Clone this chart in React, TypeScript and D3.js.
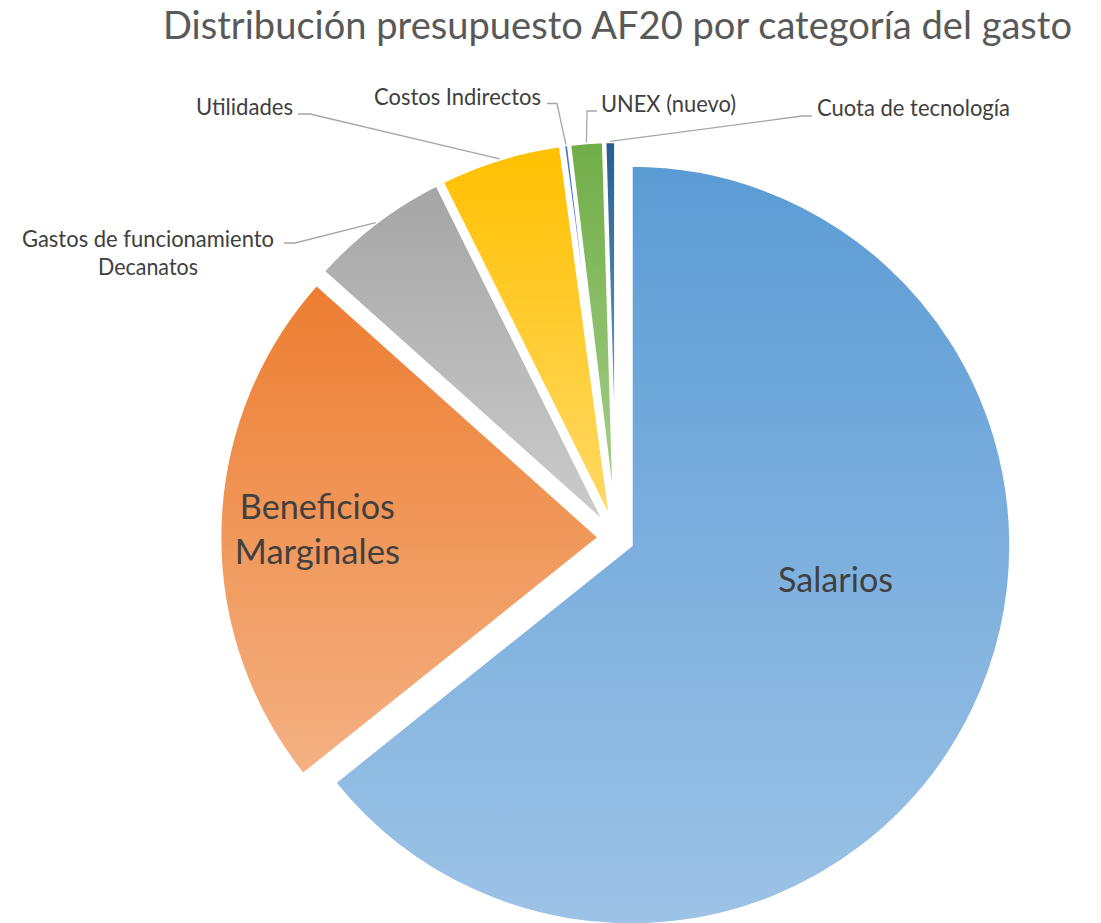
import React from "react";
import * as d3 from "d3";

// ---- data ----
const categories: string[] = [
  "Salarios",
  "Beneficios Marginales",
  "Gastos de funcionamiento Decanatos",
  "Utilidades",
  "Costos Indirectos",
  "UNEX (nuevo)",
  "Cuota de tecnología",
];
const values: number[] = [64.25, 22.36, 6.03, 5.22, 0.22, 1.44, 0.47];
const title = "Distribución presupuesto AF20 por categoría del gasto";

// ---- styles ----
const topColors = ["#5B9BD5", "#ED7D31", "#A5A5A5", "#FFC000", "#4472C4", "#70AD47", "#255E91"];
const bottomColors = ["#9DC3E6", "#F4B183", "#CCCCCC", "#FFD966", "#8FAADC", "#A9D18E", "#86B1DC"];
const FONT = "Lato, 'Open Sans', sans-serif";

// ---- layout ----
const W = 1101;
const H = 923;
const CX = 616.1;
const CY = 537.9;
const R = 380;
const EXPLODE = 16.5;

// word index at which a label is broken into two lines
const lineBreakAt: Record<number, number> = { 1: 1, 2: 3 };

type Outside = {
  x: number;
  y: number;
  anchor: "start" | "middle" | "end";
  widths: number[];
  elbow: [number, number];
  end: [number, number];
};
const outsideLabels: Record<number, Outside> = {
  2: { x: 148, y: 247, anchor: "middle", widths: [252, 100], elbow: [295, 243], end: [284, 243] },
  3: { x: 293, y: 115, anchor: "end", widths: [97], elbow: [310, 114], end: [298, 114] },
  4: { x: 541, y: 105, anchor: "end", widths: [167], elbow: [557, 103.5], end: [547, 103.5] },
  5: { x: 601, y: 112, anchor: "start", widths: [135], elbow: [587, 111], end: [597, 111] },
  6: { x: 817, y: 116, anchor: "start", widths: [193], elbow: [802, 116], end: [812, 116] },
};
type Inside = { angleDeg?: number; rf: number; widths: number[] };
const insideLabels: Record<number, Inside> = {
  0: { angleDeg: 99.6, rf: 0.546, widths: [115] },
  1: { rf: 0.743, widths: [155, 165] },
};

function splitLabel(i: number): string[] {
  const words = categories[i].split(" ");
  const k = lineBreakAt[i];
  if (k === undefined) return [categories[i]];
  return [words.slice(0, k).join(" "), words.slice(k).join(" ")];
}

export default function App() {
  const pieGen = d3.pie<number>().sort(null).value((d) => d);
  const arcs = pieGen(values);
  const arcGen = d3.arc<d3.PieArcDatum<number>>().innerRadius(0).outerRadius(R);

  const slices = arcs.map((a, i) => {
    const mid = (a.startAngle + a.endAngle) / 2;
    const ox = CX + EXPLODE * Math.sin(mid);
    const oy = CY - EXPLODE * Math.cos(mid);
    return { a, i, mid, ox, oy };
  });

  return (
    <svg
      width={W}
      height={H}
      style={{ position: "absolute", left: 0, top: 0, background: "#fff" }}
      fontFamily={FONT}
    >
      <defs>
        {categories.map((_, i) => (
          <linearGradient key={i} id={`g${i}`} x1="0" y1="0" x2="0" y2="1">
            <stop offset="0" stopColor={topColors[i]} />
            <stop offset="1" stopColor={bottomColors[i]} />
          </linearGradient>
        ))}
      </defs>
      <rect width={W} height={H} fill="#fff" />
      <text x={163} y={39} fontSize={38} fill="#595959" textLength={909} lengthAdjust="spacingAndGlyphs">
        {title}
      </text>

      {slices.map(({ a, i, ox, oy }) => (
        <path
          key={i}
          d={arcGen(a) || ""}
          transform={`translate(${ox},${oy})`}
          fill={`url(#g${i})`}
          stroke="#fff"
          strokeWidth={3.5}
          strokeLinejoin="miter"
        />
      ))}

      {slices.map(({ i, mid, ox, oy }) => {
        const L = outsideLabels[i];
        if (!L) return null;
        const sx = ox + R * Math.sin(mid);
        const sy = oy - R * Math.cos(mid);
        const lines = splitLabel(i);
        return (
          <g key={`o${i}`}>
            <polyline
              points={`${sx},${sy} ${L.elbow[0]},${L.elbow[1]} ${L.end[0]},${L.end[1]}`}
              fill="none"
              stroke="#A6A6A6"
              strokeWidth={1.3}
            />
            {lines.map((ln, j) => (
              <text
                key={j}
                x={L.x}
                y={L.y + j * 28}
                fontSize={23}
                fill="#404040"
                textAnchor={L.anchor}
                textLength={L.widths[j]}
                lengthAdjust="spacingAndGlyphs"
              >
                {ln}
              </text>
            ))}
          </g>
        );
      })}

      {slices.map(({ i, mid, ox, oy }) => {
        const L = insideLabels[i];
        if (!L) return null;
        const ang = L.angleDeg !== undefined ? (L.angleDeg * Math.PI) / 180 : mid;
        const cx = ox + L.rf * R * Math.sin(ang);
        const cy = oy - L.rf * R * Math.cos(ang);
        const lines = splitLabel(i);
        const n = lines.length;
        return (
          <g key={`in${i}`}>
            {lines.map((ln, j) => (
              <text
                key={j}
                x={cx}
                y={cy + (j - (n - 1) / 2) * 45 + 12}
                fontSize={35}
                fill="#404040"
                textAnchor="middle"
                textLength={L.widths[j]}
                lengthAdjust="spacingAndGlyphs"
              >
                {ln}
              </text>
            ))}
          </g>
        );
      })}
    </svg>
  );
}
